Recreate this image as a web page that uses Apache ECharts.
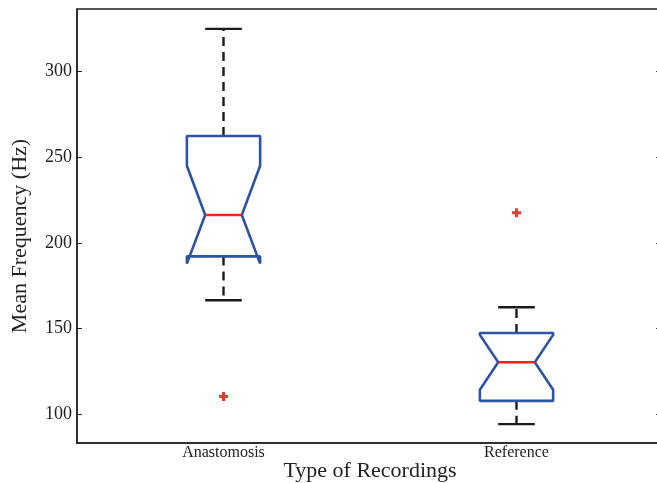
<!DOCTYPE html>
<html>
<head>
<meta charset="utf-8">
<script src="https://cdn.jsdelivr.net/npm/echarts@6/dist/echarts.min.js"></script>
<style>
html,body{margin:0;padding:0;background:#fff;}
#chart{width:657px;height:483px;}
</style>
</head>
<body>
<div id="chart"></div>
<script>
// ---- data ----
var categories = ['Anastomosis', 'Reference'];
var whiskerLow  = [166.6, 94.3];
var q1          = [192.2, 107.9];
var notchLow    = [188.0, 114.4];
var median      = [216.4, 130.4];
var notchHigh   = [245.1, 146.4];
var q3          = [262.5, 147.5];
var whiskerHigh = [325.0, 162.5];
var outliers    = [[0, 110.5], [1, 217.7]];
var yTicks      = [100, 150, 200, 250, 300];
var yMin = 83.3, yMax = 336.6;

var boxData = categories.map(function (c, i) {
  return [i, whiskerLow[i], q1[i], notchLow[i], median[i], notchHigh[i], q3[i], whiskerHigh[i]];
});

var FONT = 'Liberation Serif';
var BLUE = '#2f52a3', RED = '#ff1f1f', BLACK = '#1a1a1a';

function renderBox(params, api) {
  var idx = api.value(0);
  var band = api.size([1, 0])[0];
  var hw = band * 0.125, nw = band * 0.0625;
  function P(v) { return api.coord([idx, v]); }
  var cx = P(api.value(4))[0];
  var y = {};
  ['wLo','q1','nLo','med','nHi','q3','wHi'].forEach(function (k, j) { y[k] = P(api.value(j + 1))[1]; });
  var L = cx - hw, R = cx + hw, iL = cx - nw, iR = cx + nw;
  var dash = {stroke: BLACK, lineWidth: 2.4, lineDash: [9, 6]};
  var solid = {stroke: BLACK, lineWidth: 2.4};
  return {
    type: 'group',
    children: [
      {type: 'line', shape: {x1: cx, y1: y.q3, x2: cx, y2: y.wHi}, style: dash},
      {type: 'line', shape: {x1: cx, y1: y.q1, x2: cx, y2: y.wLo}, style: dash},
      {type: 'line', shape: {x1: iL, y1: y.wHi, x2: iR, y2: y.wHi}, style: solid},
      {type: 'line', shape: {x1: iL, y1: y.wLo, x2: iR, y2: y.wLo}, style: solid},
      {type: 'polygon', shape: {points: [
        [L, y.q1], [L, y.nLo], [iL, y.med], [L, y.nHi], [L, y.q3],
        [R, y.q3], [R, y.nHi], [iR, y.med], [R, y.nLo], [R, y.q1]
      ]}, style: {fill: 'none', stroke: BLUE, lineWidth: 2.6, lineJoin: 'bevel'}},
      {type: 'line', shape: {x1: iL, y1: y.med, x2: iR, y2: y.med}, style: {stroke: RED, lineWidth: 2.6}}
    ]
  };
}

var chart = echarts.init(document.getElementById('chart'), null, {renderer: 'canvas'});
chart.setOption({
  animation: false,
  backgroundColor: '#fff',
  grid: {left: 77, right: -6, top: 9, bottom: 40, show: true, borderColor: '#222', borderWidth: 1.5,
         backgroundColor: 'transparent', outerBoundsMode: 'none'},
  xAxis: {
    type: 'category', data: categories,
    axisLine: {show: true, lineStyle: {color: '#222', width: 1.5}},
    axisTick: {show: false},
    axisLabel: {color: '#222', fontFamily: FONT, fontSize: 16, margin: 2},
    name: 'Type of Recordings', nameLocation: 'middle', nameGap: 17, nameMoveOverlap: false,
    nameTextStyle: {color: '#222', fontFamily: FONT, fontSize: 22},
    splitLine: {show: false}
  },
  yAxis: [{
    type: 'value', min: yMin, max: yMax,
    axisLine: {show: true, lineStyle: {color: '#222', width: 1.5}},
    axisTick: {show: true, inside: true, length: 5, customValues: yTicks, lineStyle: {color: '#222'}},
    axisLabel: {color: '#222', fontFamily: FONT, fontSize: 18, margin: 5, customValues: yTicks},
    splitLine: {show: false},
    name: 'Mean Frequency (Hz)', nameLocation: 'middle', nameGap: 46, nameMoveOverlap: false,
    nameTextStyle: {color: '#222', fontFamily: FONT, fontSize: 22, padding: [0, 20, 0, 0]}
  }, {
    type: 'value', min: yMin, max: yMax, position: 'right',
    axisLine: {show: false},
    axisTick: {show: true, inside: true, length: 7, customValues: yTicks, lineStyle: {color: '#444'}},
    axisLabel: {show: false},
    splitLine: {show: false}
  }],
  series: [{
    type: 'custom',
    renderItem: renderBox,
    encode: {x: 0, y: [1, 2, 3, 4, 5, 6, 7]},
    data: boxData,
    z: 2
  }, {
    type: 'scatter',
    data: outliers,
    symbol: 'path://M3,0H6V3H9V6H6V9H3V6H0V3H3Z',
    symbolSize: 9,
    itemStyle: {color: '#ff0000'},
    z: 3
  }]
});
</script>
</body>
</html>
